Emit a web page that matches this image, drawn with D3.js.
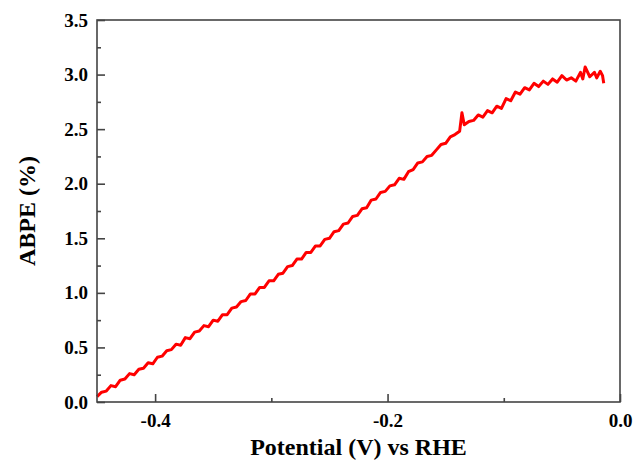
<!DOCTYPE html>
<html>
<head>
<meta charset="utf-8">
<script src="https://cdn.jsdelivr.net/npm/d3@7"></script>
<style>
	body { margin: 0; background: #fff; }
	svg { display: block; }
</style>
</head>
<body>
<div id="chart"></div>
<script>
// potential (V vs RHE) and ABPE (%)
var potential = [-0.450,-0.446,-0.442,-0.438,-0.434,-0.430,-0.426,-0.422,-0.418,-0.414,
	-0.410,-0.406,-0.402,-0.398,-0.394,-0.390,-0.386,-0.382,-0.378,-0.374,
	-0.370,-0.366,-0.362,-0.358,-0.354,-0.350,-0.346,-0.342,-0.338,-0.334,
	-0.330,-0.326,-0.322,-0.318,-0.314,-0.310,-0.306,-0.302,-0.298,-0.294,
	-0.290,-0.286,-0.282,-0.278,-0.274,-0.270,-0.266,-0.262,-0.258,-0.254,
	-0.250,-0.246,-0.242,-0.238,-0.234,-0.230,-0.226,-0.222,-0.218,-0.214,
	-0.210,-0.206,-0.202,-0.198,-0.194,-0.190,-0.186,-0.182,-0.178,-0.174,
	-0.170,-0.166,-0.162,-0.158,-0.154,-0.150,-0.146,-0.142,-0.138,-0.136,
	-0.134,-0.130,-0.126,-0.122,-0.118,-0.114,-0.110,-0.106,-0.102,-0.098,
	-0.094,-0.090,-0.086,-0.082,-0.078,-0.074,-0.070,-0.066,-0.062,-0.058,
	-0.054,-0.050,-0.046,-0.042,-0.038,-0.034,-0.032,-0.030,-0.026,-0.022,
	-0.020,-0.017,-0.015,-0.014];
var abpe = [0.05,0.09,0.10,0.15,0.14,0.20,0.21,0.26,0.25,0.30,
	0.31,0.36,0.35,0.41,0.42,0.47,0.48,0.53,0.52,0.59,
	0.58,0.64,0.65,0.70,0.69,0.75,0.74,0.80,0.80,0.86,
	0.87,0.92,0.93,0.99,0.99,1.05,1.05,1.11,1.11,1.17,
	1.18,1.24,1.25,1.31,1.31,1.37,1.37,1.43,1.43,1.49,
	1.50,1.56,1.57,1.63,1.64,1.70,1.71,1.77,1.78,1.85,
	1.86,1.92,1.93,1.98,1.99,2.05,2.04,2.11,2.13,2.19,
	2.20,2.25,2.26,2.31,2.36,2.37,2.43,2.45,2.48,2.65,
	2.54,2.57,2.58,2.63,2.61,2.67,2.65,2.71,2.69,2.78,
	2.76,2.84,2.82,2.88,2.86,2.92,2.89,2.94,2.91,2.96,
	2.93,2.99,2.95,2.97,2.94,3.02,2.96,3.07,2.98,3.02,
	2.97,3.03,2.99,2.92];

var xMajor = [-0.4, -0.2, 0.0];
var xMinor = [-0.3, -0.1];
var yMajor = [0.0, 0.5, 1.0, 1.5, 2.0, 2.5, 3.0, 3.5];
var yMinor = [0.25, 0.75, 1.25, 1.75, 2.25, 2.75, 3.25];

var width = 638, height = 461;
var margin = {top: 20, right: 18, bottom: 59, left: 97};
var w = width - margin.left - margin.right;
var h = height - margin.top - margin.bottom;

var svg = d3.select("#chart")
	.append("svg")
	.attr("width", width)
	.attr("height", height);

var g = svg.append("g")
	.attr("transform", "translate(" + margin.left + "," + margin.top + ")");

var x = d3.scaleLinear().domain([-0.45, 0.0]).range([0, w]);
var y = d3.scaleLinear().domain([0, 3.5]).range([h, 0]);

var axisColor = "#444";
var font = "'Liberation Serif', 'Times New Roman', serif";

//curve
var line = d3.line()
	.x(function(d, i) { return x(potential[i]); })
	.y(function(d) { return y(d); });

g.append("path")
	.datum(abpe)
	.attr("d", line)
	.attr("fill", "none")
	.attr("stroke", "#ff0000")
	.attr("stroke-width", 3)
	.attr("stroke-linejoin", "round");

//frame
g.append("rect")
	.attr("width", w)
	.attr("height", h)
	.attr("fill", "none")
	.attr("stroke", axisColor)
	.attr("stroke-width", 1.6);

//bottom axis, ticks pointing in
var xAxis = g.append("g")
	.attr("transform", "translate(0," + h + ")")
	.call(d3.axisBottom(x).tickValues(xMajor).tickSizeInner(-8).tickSizeOuter(0));
g.append("g")
	.attr("transform", "translate(0," + h + ")")
	.call(d3.axisBottom(x).tickValues(xMinor).tickSize(-4).tickFormat(""));

//left axis
var yAxis = g.append("g")
	.call(d3.axisLeft(y).tickValues(yMajor).tickSizeInner(-8).tickSizeOuter(0));
g.append("g")
	.call(d3.axisLeft(y).tickValues(yMinor).tickSize(-4).tickFormat(""));

g.selectAll(".domain").remove();
g.selectAll(".tick line").attr("stroke", axisColor).attr("stroke-width", 1.6);

xAxis.selectAll("text")
	.attr("y", 12)
	.attr("dy", "0.71em")
	.text(function(d) { return d === 0 ? "0.0" : d3.format(".1f")(d).replace("\u2212", "-"); });
yAxis.selectAll("text")
	.attr("x", -9)
	.text(function(d) { return d3.format(".1f")(d); });

g.selectAll(".tick text")
	.attr("fill", "#000")
	.style("font-family", font)
	.style("font-weight", "bold")
	.style("font-size", "19px");

//axis titles
svg.append("text")
	.attr("x", margin.left + w / 2)
	.attr("y", 455)
	.attr("text-anchor", "middle")
	.style("font-family", font)
	.style("font-weight", "bold")
	.style("font-size", "24px")
	.text("Potential (V) vs RHE");

svg.append("text")
	.attr("transform", "translate(35," + (margin.top + h / 2) + ") rotate(-90)")
	.attr("text-anchor", "middle")
	.style("font-family", font)
	.style("font-weight", "bold")
	.style("font-size", "24px")
	.text("ABPE (%)");
</script>
</body>
</html>
